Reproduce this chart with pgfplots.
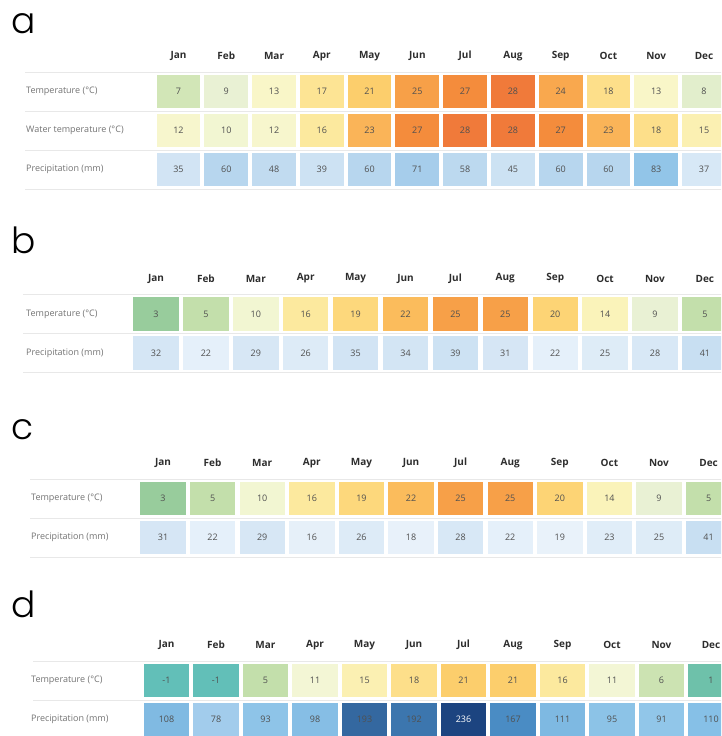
\documentclass[border=0pt]{standalone}
\usepackage{fontspec}
\setmainfont{Open Sans}
\newfontfamily\letterfont{Poppins Light}
\usepackage{pgfplots}
\usepackage{pgfplotstable}
\pgfplotsset{compat=1.18}
\definecolor{numgray}{RGB}{80,80,80}
\definecolor{labgray}{RGB}{115,115,115}
\definecolor{headgray}{RGB}{45,45,45}
\definecolor{rulegray}{RGB}{232,232,232}
% temperature colours
\definecolor{tm1}{RGB}{98,191,184}
\definecolor{t1}{RGB}{110,193,170}
\definecolor{t3}{RGB}{152,204,156}
\definecolor{t5}{RGB}{195,223,171}
\definecolor{t6}{RGB}{204,227,178}
\definecolor{t7}{RGB}{210,230,183}
\definecolor{t8}{RGB}{226,238,204}
\definecolor{t9}{RGB}{233,241,212}
\definecolor{t10}{RGB}{242,246,210}
\definecolor{t11}{RGB}{243,246,213}
\definecolor{t12}{RGB}{247,246,205}
\definecolor{t13}{RGB}{249,246,200}
\definecolor{t14}{RGB}{250,243,186}
\definecolor{t15}{RGB}{251,240,178}
\definecolor{t16}{RGB}{252,233,158}
\definecolor{t17}{RGB}{253,228,148}
\definecolor{t18}{RGB}{253,223,138}
\definecolor{t19}{RGB}{253,216,124}
\definecolor{t20}{RGB}{253,212,117}
\definecolor{t21}{RGB}{252,206,108}
\definecolor{t22}{RGB}{251,188,92}
\definecolor{t23}{RGB}{250,180,88}
\definecolor{t24}{RGB}{249,168,78}
\definecolor{t25}{RGB}{247,160,72}
\definecolor{t27}{RGB}{244,140,60}
\definecolor{t28}{RGB}{240,122,58}
% precipitation colours
\definecolor{p16}{RGB}{230,240,249}
\definecolor{p18}{RGB}{232,241,250}
\definecolor{p19}{RGB}{233,242,250}
\definecolor{p22}{RGB}{229,240,250}
\definecolor{p23}{RGB}{224,237,248}
\definecolor{p25}{RGB}{222,236,247}
\definecolor{p26}{RGB}{221,235,247}
\definecolor{p28}{RGB}{216,232,246}
\definecolor{p29}{RGB}{215,231,245}
\definecolor{p31}{RGB}{214,230,245}
\definecolor{p32}{RGB}{213,230,245}
\definecolor{p34}{RGB}{211,229,244}
\definecolor{p35}{RGB}{210,228,244}
\definecolor{p37}{RGB}{215,232,246}
\definecolor{p39}{RGB}{205,226,243}
\definecolor{p41}{RGB}{200,223,242}
\definecolor{p45}{RGB}{204,226,243}
\definecolor{p48}{RGB}{193,219,240}
\definecolor{p58}{RGB}{188,217,239}
\definecolor{p60}{RGB}{183,214,238}
\definecolor{p71}{RGB}{166,205,235}
\definecolor{p78}{RGB}{162,204,236}
\definecolor{p83}{RGB}{146,197,232}
\definecolor{p91}{RGB}{145,198,233}
\definecolor{p93}{RGB}{142,196,232}
\definecolor{p95}{RGB}{140,195,231}
\definecolor{p98}{RGB}{134,190,229}
\definecolor{p108}{RGB}{128,186,226}
\definecolor{p110}{RGB}{134,192,231}
\definecolor{p111}{RGB}{126,185,226}
\definecolor{p167}{RGB}{74,140,196}
\definecolor{p192}{RGB}{60,118,174}
\definecolor{p193}{RGB}{52,104,160}
\definecolor{p236}{RGB}{28,68,128}
\newcommand\headfont{\bfseries\fontsize{10}{12}\selectfont}
\newcommand\numfont{\fontsize{9}{10}\selectfont}
\newcommand\labfont{\fontsize{9}{11}\selectfont}
\tikzset{rule/.style={rulegray, line width=0.8pt}}
\pgfdeclareplotmark{cellA}{\pgfpathrectangle{\pgfpoint{-21.9pt}{-16.75pt}}{\pgfpoint{43.8pt}{33.5pt}}\pgfusepathqfill}
\pgfdeclareplotmark{cellB}{\pgfpathrectangle{\pgfpoint{-22.7pt}{-16.75pt}}{\pgfpoint{45.4pt}{33.5pt}}\pgfusepathqfill}
\pgfplotsset{
  rowaxis/.style={scale only axis, anchor=north west,
    xmin=-0.5, xmax=11.5, ymin=-0.5, ymax=0.5, height=39pt,
    axis line style={draw=none}, tick style={draw=none}, major tick length=0pt,
    clip=false, xtick=\empty, ytick={0},
    yticklabel style={anchor=west, inner sep=0pt, text=labgray, font=\labfont},
    /pgf/number format/assume math mode=true},
  heads/.style={xtick={0,...,11},
    xticklabels={Jan,Feb,Mar,Apr,May,Jun,Jul,Aug,Sep,Oct,Nov,Dec},
    xticklabel pos=upper,
    xticklabel style={anchor=center, yshift=16pt, font=\headfont, text=headgray}},
  cells/.style={only marks, scatter, mark=cellB, point meta=explicit symbolic},
  tclasses/.style={scatter/classes={
    -1={color=tm1}, 1={color=t1}, 3={color=t3}, 5={color=t5}, 6={color=t6},
    7={color=t7}, 8={color=t8}, 9={color=t9}, 10={color=t10}, 11={color=t11},
    12={color=t12}, 13={color=t13}, 14={color=t14}, 15={color=t15}, 16={color=t16},
    17={color=t17}, 18={color=t18}, 19={color=t19}, 20={color=t20}, 21={color=t21},
    22={color=t22}, 23={color=t23}, 24={color=t24}, 25={color=t25}, 27={color=t27},
    28={color=t28}}},
  pclasses/.style={scatter/classes={
    16={color=p16}, 18={color=p18}, 19={color=p19}, 22={color=p22}, 23={color=p23},
    25={color=p25}, 26={color=p26}, 28={color=p28}, 29={color=p29}, 31={color=p31},
    32={color=p32}, 34={color=p34}, 35={color=p35}, 37={color=p37}, 39={color=p39},
    41={color=p41}, 45={color=p45}, 48={color=p48}, 58={color=p58}, 60={color=p60},
    71={color=p71}, 78={color=p78}, 83={color=p83}, 91={color=p91}, 93={color=p93},
    95={color=p95}, 98={color=p98}, 108={color=p108}, 110={color=p110}, 111={color=p111},
    167={color=p167}, 192={color=p192}, 193={color=p193}, 236={color=p236}}},
  nums/.style={draw=none, mark=none, point meta=explicit,
    nodes near coords, nodes near coords align=center,
    every node near coord/.append style={font=\numfont, text=numgray}},
}
\pgfplotstableread{
x y v
0 0 7
1 0 9
2 0 13
3 0 17
4 0 21
5 0 25
6 0 27
7 0 28
8 0 24
9 0 18
10 0 13
11 0 8
}\aTemp
\pgfplotstableread{
x y v
0 0 12
1 0 10
2 0 12
3 0 16
4 0 23
5 0 27
6 0 28
7 0 28
8 0 27
9 0 23
10 0 18
11 0 15
}\aWater
\pgfplotstableread{
x y v
0 0 35
1 0 60
2 0 48
3 0 39
4 0 60
5 0 71
6 0 58
7 0 45
8 0 60
9 0 60
10 0 83
11 0 37
}\aPrec
\pgfplotstableread{
x y v
0 0 3
1 0 5
2 0 10
3 0 16
4 0 19
5 0 22
6 0 25
7 0 25
8 0 20
9 0 14
10 0 9
11 0 5
}\bTemp
\pgfplotstableread{
x y v
0 0 32
1 0 22
2 0 29
3 0 26
4 0 35
5 0 34
6 0 39
7 0 31
8 0 22
9 0 25
10 0 28
11 0 41
}\bPrec
\pgfplotstableread{
x y v
0 0 3
1 0 5
2 0 10
3 0 16
4 0 19
5 0 22
6 0 25
7 0 25
8 0 20
9 0 14
10 0 9
11 0 5
}\cTemp
\pgfplotstableread{
x y v
0 0 31
1 0 22
2 0 29
3 0 16
4 0 26
5 0 18
6 0 28
7 0 22
8 0 19
9 0 23
10 0 25
11 0 41
}\cPrec
\pgfplotstableread{
x y v
0 0 -1
1 0 -1
2 0 5
3 0 11
4 0 15
5 0 18
6 0 21
7 0 21
8 0 16
9 0 11
10 0 6
11 0 1
}\dTemp
\pgfplotstableread{
x y v
0 0 108
1 0 78
2 0 93
3 0 98
4 0 193
5 0 192
7 0 167
8 0 111
9 0 95
10 0 91
11 0 110
}\dPrec
\pgfplotstableread{
x y v
6 0 236
}\dPrecJul
\begin{document}
\begin{tikzpicture}
\useasboundingbox (0pt,0pt) rectangle (721pt,-736pt);
\clip (0pt,0pt) rectangle (721pt,-736pt);

\node[anchor=base west, inner sep=0pt, font=\letterfont\fontsize{36}{40}\selectfont] at (11pt,-33.5pt) {a};
\node[anchor=base west, inner sep=0pt, font=\letterfont\fontsize{36}{40}\selectfont] at (11pt,-253pt) {b};
\node[anchor=base west, inner sep=0pt, font=\letterfont\fontsize{36}{40}\selectfont] at (11pt,-439pt) {c};
\node[anchor=base west, inner sep=0pt, font=\letterfont\fontsize{36}{40}\selectfont] at (11pt,-617pt) {d};

\begin{axis}[rowaxis, heads, at={(154.6pt,-72pt)}, width=573.3pt,
  yticklabels={{Temperature (°C)}}, yticklabel style={xshift=-128.6pt}]
\addplot[cells, tclasses, mark=cellA] table[meta=v] {\aTemp};
\addplot[nums] table[meta=v] {\aTemp};
\draw[rule] (axis cs:-3.213,0.5) -- (axis cs:12.5,0.5);
\end{axis}
\begin{axis}[rowaxis, at={(154.6pt,-111pt)}, width=573.3pt,
  yticklabels={{Water temperature (°C)}}, yticklabel style={xshift=-128.6pt}]
\addplot[cells, tclasses, mark=cellA] table[meta=v] {\aWater};
\addplot[nums] table[meta=v] {\aWater};
\draw[rule] (axis cs:-3.213,0.5) -- (axis cs:12.5,0.5);
\end{axis}
\begin{axis}[rowaxis, at={(154.6pt,-150pt)}, width=573.3pt,
  yticklabels={{Precipitation (mm)}}, yticklabel style={xshift=-128.6pt}]
\addplot[cells, pclasses, mark=cellA] table[meta=v] {\aPrec};
\addplot[nums] table[meta=v] {\aPrec};
\draw[rule] (axis cs:-3.213,0.5) -- (axis cs:12.5,0.5);
\draw[rule] (axis cs:-3.213,-0.5) -- (axis cs:12.5,-0.5);
\end{axis}

\begin{axis}[rowaxis, heads, at={(131.05pt,-294.5pt)}, width=598.8pt,
  yticklabels={{Temperature (°C)}}, yticklabel style={xshift=-105pt}]
\addplot[cells, tclasses] table[meta=v] {\bTemp};
\addplot[nums] table[meta=v] {\bTemp};
\draw[rule] (axis cs:-2.665,0.5) -- (axis cs:12.5,0.5);
\end{axis}
\begin{axis}[rowaxis, at={(131.05pt,-333.5pt)}, width=598.8pt,
  yticklabels={{Precipitation (mm)}}, yticklabel style={xshift=-105pt}]
\addplot[cells, pclasses] table[meta=v] {\bPrec};
\addplot[nums] table[meta=v] {\bPrec};
\draw[rule] (axis cs:-2.665,0.5) -- (axis cs:12.5,0.5);
\draw[rule] (axis cs:-2.665,-0.5) -- (axis cs:12.5,-0.5);
\end{axis}

\begin{axis}[rowaxis, heads, at={(138.2pt,-479pt)}, width=595.2pt,
  yticklabels={{Temperature (°C)}}, yticklabel style={xshift=-107.2pt}]
\addplot[cells, tclasses] table[meta=v] {\cTemp};
\addplot[nums] table[meta=v] {\cTemp};
\draw[rule] (axis cs:-2.681,0.5) -- (axis cs:12.5,0.5);
\end{axis}
\begin{axis}[rowaxis, at={(138.2pt,-518pt)}, width=595.2pt,
  yticklabels={{Precipitation (mm)}}, yticklabel style={xshift=-107.2pt}]
\addplot[cells, pclasses] table[meta=v] {\cPrec};
\addplot[nums] table[meta=v] {\cPrec};
\draw[rule] (axis cs:-2.681,0.5) -- (axis cs:12.5,0.5);
\draw[rule] (axis cs:-2.681,-0.5) -- (axis cs:12.5,-0.5);
\end{axis}

\begin{axis}[rowaxis, heads, at={(141.75pt,-661pt)}, width=594pt,
  yticklabels={{Temperature (°C)}}, yticklabel style={xshift=-110.75pt}]
\addplot[cells, tclasses] table[meta=v] {\dTemp};
\addplot[nums] table[meta=v] {\dTemp};
\draw[rule] (axis cs:-2.697,0.5) -- (axis cs:12.5,0.5);
\end{axis}
\begin{axis}[rowaxis, at={(141.75pt,-700pt)}, width=594pt,
  yticklabels={{Precipitation (mm)}}, yticklabel style={xshift=-110.75pt}]
\addplot[cells, pclasses] table[meta=v] {\dPrec};
\addplot[cells, pclasses] table[meta=v] {\dPrecJul};
\addplot[nums] table[meta=v] {\dPrec};
\addplot[nums, every node near coord/.append style={text=white}] table[meta=v] {\dPrecJul};
\draw[rule] (axis cs:-2.697,0.5) -- (axis cs:12.5,0.5);
\end{axis}
\end{tikzpicture}
\end{document}
